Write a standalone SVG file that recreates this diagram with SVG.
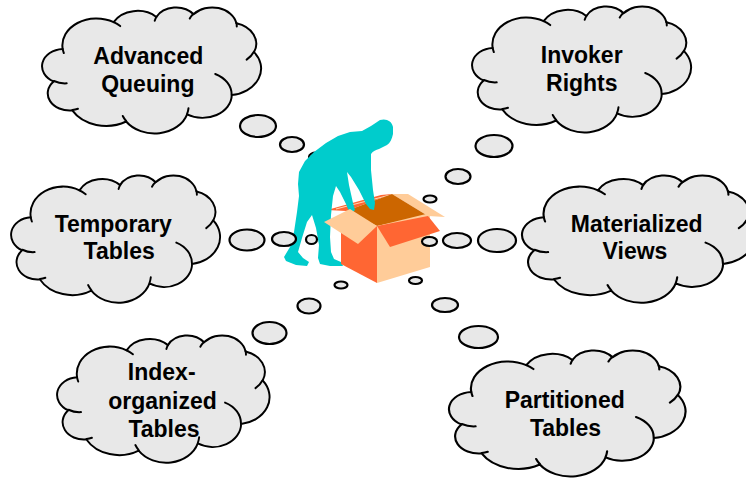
<svg xmlns="http://www.w3.org/2000/svg" xmlns:xlink="http://www.w3.org/1999/xlink" width="746" height="479" viewBox="0 0 746 479">
  <style>
    .cloud-fill { fill: #e8e8e8; stroke: #000; stroke-width: 2; stroke-linejoin: round; }
    .cloud-mark { fill: none; stroke: #000; stroke-width: 2; stroke-linecap: round; }
    .bubble { fill: #e8e8e8; stroke: #000; stroke-width: 2.2; }
    .label { font-family: "Liberation Sans", Arial, Helvetica, sans-serif; font-weight: bold; font-size: 23px; fill: #000; text-anchor: middle; }
    .person { fill: #00cccc; }
    .red { fill: #ff6633; }
    .peach { fill: #ffcc99; }
    .inside { fill: #cc6600; }
  </style>
  <defs>
    <!-- thought cloud, 218 x 126 base size -->
    <g id="cloud">
      <path class="cloud-fill" d="M19.68,41.91 A34.08,26.80 0 0 1 70.67,15.17 A26.91,21.20 0 0 1 113.32,10.01 A22.03,17.34 0 0 1 150.55,7.24 A24.51,19.24 0 0 1 193.37,16.26 A26.91,21.21 0 0 1 211.04,45.09 A34.19,26.89 0 0 1 188.76,88.09 A29.19,22.95 0 0 1 144.10,107.36 A34.07,26.88 0 0 1 83.17,114.52 A38.96,30.75 0 0 1 29.29,103.45 A22.00,17.26 0 0 1 10.66,74.52 A21.93,17.34 0 0 1 19.68,41.91 Z"/>
      <path class="cloud-mark" d="M23.68,76.35 A21.93,17.34 0 0 1 10.90,74.02 M34.96,101.79 A22.00,17.26 0 0 1 29.37,102.90 M83.15,114.01 A34.07,26.88 0 0 1 79.78,108.94 M145.47,101.36 A34.07,26.88 0 0 1 144.12,106.92 M172.23,66.95 A29.19,22.95 0 0 1 188.63,87.76 M210.93,44.78 A26.91,21.21 0 0 1 203.62,52.59 M193.39,15.83 A24.51,19.24 0 0 1 193.78,19.51 M146.74,11.53 A24.51,19.24 0 0 1 150.48,6.83 M111.73,13.77 A22.03,17.34 0 0 1 113.54,9.71 M70.65,15.14 A34.08,26.80 0 0 1 77.21,19.08 M20.83,46.05 A34.08,26.80 0 0 1 19.68,41.91"/>
    </g>
  </defs>

  <rect x="0" y="0" width="746" height="479" fill="#fff"/>

  <!-- feature clouds -->
  <g id="advanced-queuing">
    <use xlink:href="#cloud" transform="translate(43,7)"/>
    <text class="label" x="148.3" y="64.3">Advanced</text>
    <text class="label" x="147.8" y="91.7">Queuing</text>
  </g>
  <g id="invoker-rights">
    <use xlink:href="#cloud" transform="translate(473,6)"/>
    <text class="label" x="581.7" y="63.3">Invoker</text>
    <text class="label" x="581.8" y="90.7">Rights</text>
  </g>
  <g id="temporary-tables">
    <use xlink:href="#cloud" transform="translate(12,175) scale(0.954,1.01)"/>
    <text class="label" x="113.3" y="231.7">Temporary</text>
    <text class="label" x="119.2" y="259.3">Tables</text>
  </g>
  <g id="materialized-views">
    <use xlink:href="#cloud" transform="translate(523,175) scale(1.06,1.01)"/>
    <text class="label" x="636.7" y="231.7">Materialized</text>
    <text class="label" x="635" y="259.3">Views</text>
  </g>
  <g id="index-organized-tables">
    <use xlink:href="#cloud" transform="translate(58,335) scale(0.97,1.01)"/>
    <text class="label" x="161.7" y="380">Index-</text>
    <text class="label" x="162.5" y="409">organized</text>
    <text class="label" x="164" y="437.3">Tables</text>
  </g>
  <g id="partitioned-tables">
    <use xlink:href="#cloud" transform="translate(450,350) scale(1.08,1.0)"/>
    <text class="label" x="564.7" y="408.3">Partitioned</text>
    <text class="label" x="565.5" y="435.7">Tables</text>
  </g>

  <!-- thought bubbles that sit behind the figure -->
  <g id="connectors-back">
    <ellipse class="bubble" cx="316" cy="157" rx="7" ry="4.5"/>
  </g>

  <!-- box: back parts -->
  <g id="box-back">
    <polygon class="red" points="327,210 381,195 392,194 346,211"/>
    <line x1="336" y1="209" x2="388" y2="195.5" stroke="#ffd9b3" stroke-width="1"/>
    <polygon class="peach" points="392,194 408,194 445,217 428,216"/>
    <polygon class="inside" points="346,211 392,194 428,216 377,226"/>
  </g>

  <!-- figure leaning over the box -->
  <g id="person">
    <path class="person" d="M380,120 C386,118 392,121 393,127 L393,134 C392,139 390,143 387,145 L383,147 L379,149 C376,150 373,151 371,154 L371,170 L373,190 L375,203 L374,210 L370,209 L366,204 L359,190 L351,177 L347,172 L349,185 L353,203 L355,210 L352,213 L348,209 L346,204 L340,192 L336,186 L333,196 L331,215 L330,237 L331,252 L334,259 L341,262 L343,266 L330,266 L320,264 L318,258 L319,245 L316,228 L312,215 L307,222 L302,238 L298,252 L303,258 L309,262 L307,266 L296,265 L286,261 L284,257 L290,247 L294,232 L297,212 L299,196 L298,184 L299,172 L305,161 L314,152 L326,143 L338,136 L350,132 L362,131 L371,126 Z"/>
  </g>

  <!-- box: front parts -->
  <g id="box">
    <polygon class="red" points="341,231 377,226 377,283 341,264"/>
    <polygon class="peach" points="377,226 430,213 430,267 377,283"/>
    <polygon class="peach" points="324,222 350,209 377,226 358,244"/>
    <polygon class="red" points="377,226 428,216 440,231 390,247"/>
  </g>

  <!-- thought bubbles leading from the figure to each cloud -->
  <g id="connectors">
    <ellipse class="bubble" cx="258" cy="126" rx="18" ry="11"/>
    <ellipse class="bubble" cx="292" cy="144.5" rx="12" ry="7.5"/>
    <ellipse class="bubble" cx="494" cy="146" rx="18.5" ry="11"/>
    <ellipse class="bubble" cx="458" cy="176.5" rx="12.5" ry="7.5"/>
    <ellipse class="bubble" cx="430" cy="199" rx="6.5" ry="3.5"/>
    <ellipse class="bubble" cx="247" cy="240" rx="17.5" ry="10.5"/>
    <ellipse class="bubble" cx="284" cy="239" rx="12" ry="7"/>
    <ellipse class="bubble" cx="311.5" cy="239.5" rx="5.5" ry="4.5"/>
    <ellipse class="bubble" cx="429.5" cy="241.5" rx="7.5" ry="4.5"/>
    <ellipse class="bubble" cx="457" cy="240.5" rx="14" ry="7.5"/>
    <ellipse class="bubble" cx="497" cy="240.5" rx="19" ry="11.5"/>
    <ellipse class="bubble" cx="341" cy="285" rx="6.5" ry="3.5"/>
    <ellipse class="bubble" cx="309" cy="306" rx="11.5" ry="7.5"/>
    <ellipse class="bubble" cx="269.5" cy="333" rx="17" ry="11"/>
    <ellipse class="bubble" cx="415.5" cy="280.5" rx="6.5" ry="3.5"/>
    <ellipse class="bubble" cx="445" cy="305" rx="13" ry="7"/>
    <ellipse class="bubble" cx="478.5" cy="337" rx="19.5" ry="11"/>
  </g>
</svg>
